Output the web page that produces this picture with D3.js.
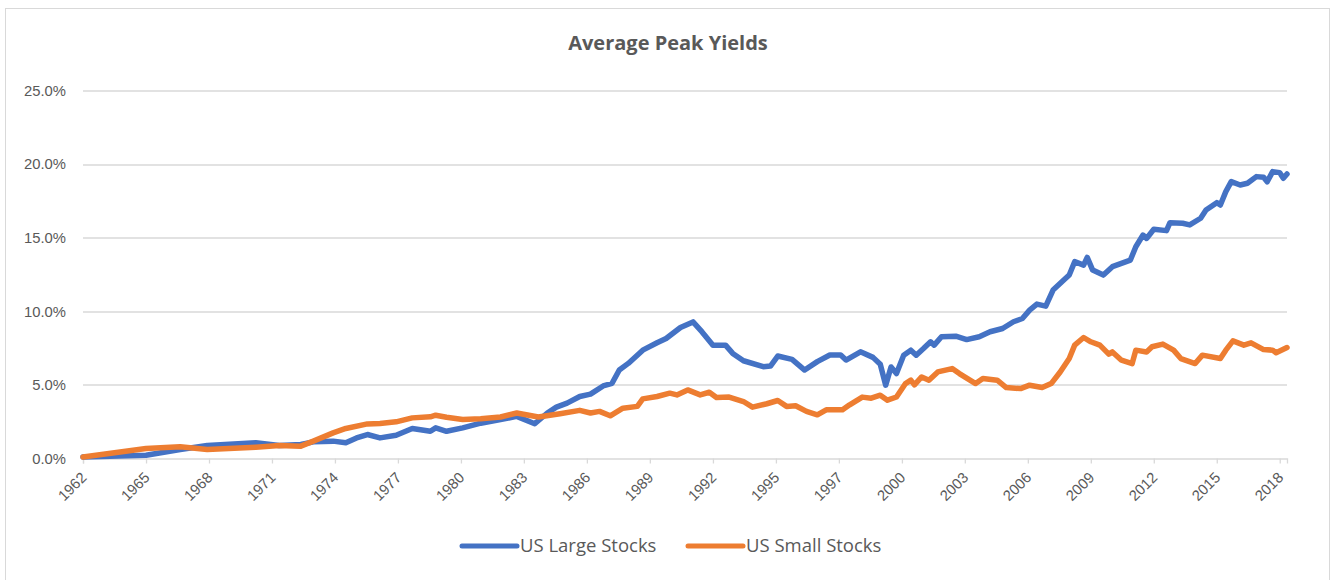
<!DOCTYPE html>
<html>
<head>
<meta charset="utf-8">
<script src="https://cdn.jsdelivr.net/npm/d3@7"></script>
<style>
  body { margin: 0; background: #fff; }
  .tick text { fill: #595959; font-family: "Liberation Sans", Arial, sans-serif; font-size: 14.8px; }
  .chartTitle { fill: #595959; font-family: "Open Sans", sans-serif; font-weight: bold; font-size: 20px; }
  .legendText { fill: #595959; font-family: "Open Sans", sans-serif; font-size: 18.5px; }
</style>
</head>
<body>
<div id="chart"></div>
<script>
var largeDates = ["1962-12","1965-11","1967-06","1968-09","1970-12","1972-01","1973-01","1973-08","1974-07","1975-02",
  "1975-08","1976-02","1976-09","1977-06","1978-03","1979-01","1979-04","1979-10","1980-07","1981-05",
  "1982-04","1983-01","1983-11","1984-06","1984-11","1985-05","1985-12","1986-06","1987-01","1987-06",
  "1987-10","1988-03","1988-11","1989-07","1989-12","1990-08","1991-03","1991-08","1992-02","1992-09",
  "1993-01","1993-07","1994-06","1994-10","1995-02","1995-10","1996-05","1996-12","1997-07","1998-01",
  "1998-04","1998-12","1999-07","1999-11","2000-02","2000-05","2000-08","2000-12","2001-04","2001-07",
  "2001-11","2002-03","2002-05","2002-09","2003-05","2003-11","2004-06","2004-12","2005-07","2006-01",
  "2006-06","2006-10","2007-02","2007-07","2007-11","2008-05","2008-08","2008-11","2009-04","2009-06",
  "2009-09","2010-03","2010-08","2011-06","2011-09","2012-01","2012-03","2012-07","2013-02","2013-04",
  "2013-11","2014-03","2014-09","2014-12","2015-06","2015-08","2015-11","2016-02","2016-07","2016-11",
  "2017-04","2017-08","2017-10","2018-01","2018-05","2018-07","2018-09"];
var largeValues = [0.1,0.22,0.61,0.88,1.07,0.88,0.95,1.13,1.18,1.07,
  1.4,1.63,1.4,1.58,2.04,1.85,2.08,1.85,2.08,2.4,
  2.64,2.86,2.36,3.09,3.49,3.76,4.21,4.37,4.93,5.11,
  6.01,6.46,7.36,7.86,8.15,8.9,9.28,8.6,7.7,7.7,
  7.14,6.64,6.24,6.28,6.96,6.73,6.01,6.58,7.03,7.03,
  6.69,7.25,6.87,6.4,4.98,6.22,5.77,7.02,7.36,7.02,
  7.47,7.93,7.7,8.27,8.31,8.08,8.27,8.61,8.83,9.29,
  9.51,10.08,10.49,10.35,11.44,12.12,12.46,13.37,13.14,13.66,
  12.8,12.46,13.03,13.48,14.39,15.18,14.95,15.57,15.48,16.02,
  15.98,15.87,16.32,16.88,17.38,17.22,18.13,18.81,18.58,18.7,
  19.15,19.1,18.8,19.49,19.42,19.04,19.33];

var smallDates = ["1962-12","1965-11","1967-06","1968-09","1970-12","1972-01","1973-01","1973-08","1974-07","1975-02",
  "1976-02","1976-09","1977-06","1978-03","1979-01","1979-04","1979-10","1980-07","1981-05","1982-04",
  "1983-01","1984-01","1985-01","1985-12","1986-06","1986-11","1987-05","1987-12","1988-08","1988-11",
  "1989-07","1990-02","1990-06","1990-12","1991-07","1991-12","1992-04","1992-11","1993-07","1993-12",
  "1994-08","1995-02","1995-07","1995-12","1996-06","1996-12","1997-05","1998-02","1998-06","1999-01",
  "1999-06","1999-11","2000-03","2000-08","2001-01","2001-04","2001-06","2001-10","2002-02","2002-07",
  "2003-03","2003-07","2004-04","2004-08","2005-04","2005-09","2006-05","2006-10","2007-05","2007-10",
  "2008-03","2008-08","2008-11","2009-04","2009-08","2010-01","2010-06","2010-08","2011-01","2011-07",
  "2011-09","2012-03","2012-06","2012-12","2013-06","2013-10","2014-06","2014-10","2015-08","2015-11",
  "2016-03","2016-09","2017-01","2017-08","2018-01","2018-03","2018-09"];
var smallValues = [0.1,0.68,0.8,0.61,0.77,0.88,0.84,1.18,1.74,2.04,
  2.35,2.38,2.49,2.76,2.83,2.94,2.8,2.65,2.7,2.82,
  3.09,2.82,3.04,3.27,3.09,3.2,2.9,3.42,3.54,4.05,
  4.21,4.44,4.32,4.66,4.32,4.5,4.14,4.17,3.87,3.49,
  3.72,3.94,3.54,3.58,3.2,2.97,3.31,3.31,3.65,4.17,
  4.1,4.3,3.96,4.18,5.09,5.32,5.0,5.54,5.32,5.88,
  6.11,5.77,5.09,5.43,5.32,4.82,4.75,4.98,4.82,5.09,
  5.88,6.79,7.7,8.22,7.93,7.7,7.09,7.24,6.68,6.45,
  7.36,7.24,7.59,7.77,7.36,6.79,6.45,7.02,6.79,7.36,
  7.99,7.7,7.86,7.4,7.36,7.18,7.54];

var yTicks = [0, 5, 10, 15, 20, 25];
var xTickStart = "1962-12";
var xTickStepMonths = 35;
var xTickCount = 20;
var seriesNames = ["US Large Stocks", "US Small Stocks"];
var seriesColors = ["#4472C4", "#ED7D31"];

var svgWidth = 1331;
var svgHeight = 580;
var margin = { top: 90.5, right: 44, bottom: 121.5, left: 83 };
var width = svgWidth - margin.left - margin.right;
var height = svgHeight - margin.top - margin.bottom;

var parseMonth = d3.timeParse("%Y-%m");

var svg = d3.select("#chart")
    .append("svg")
    .attr("width", svgWidth)
    .attr("height", svgHeight);

// chart border
svg.append("rect")
    .attr("x", 5.5)
    .attr("y", 8.5)
    .attr("width", 1324)
    .attr("height", 600)
    .attr("fill", "none")
    .attr("stroke", "#d9d9d9");

svg.append("text")
    .attr("class", "chartTitle")
    .attr("x", 668)
    .attr("y", 50)
    .attr("text-anchor", "middle")
    .text("Average Peak Yields");

var charts = svg.append("g")
    .attr("transform", `translate(${margin.left}, ${margin.top})`);

var large = largeDates.map((d, i) => ({ date: parseMonth(d), value: largeValues[i] }));
var small = smallDates.map((d, i) => ({ date: parseMonth(d), value: smallValues[i] }));

var xScale = d3.scaleTime()
    .domain([parseMonth("1962-12"), parseMonth("2018-09")])
    .range([0, width]);

var yScale = d3.scaleLinear()
    .domain([0, 25])
    .range([height, 0]);

// gridlines
charts.append("g")
    .selectAll("line")
    .data(yTicks.slice(1))
    .enter()
    .append("line")
    .attr("x1", 0)
    .attr("x2", width)
    .attr("y1", d => Math.round(yScale(d)) + 0.5)
    .attr("y2", d => Math.round(yScale(d)) + 0.5)
    .attr("stroke", "#d9d9d9")
    .attr("stroke-width", 1.3);

var leftAxis = d3.axisLeft(yScale)
    .tickValues(yTicks)
    .tickSize(0)
    .tickPadding(17)
    .tickFormat(d => d3.format(".1f")(d) + "%");

var yAxis = charts.append("g").call(leftAxis);
yAxis.select(".domain").remove();

var tickDates = d3.range(xTickCount).map(k => d3.timeMonth.offset(parseMonth(xTickStart), k * xTickStepMonths));

var bottomAxis = d3.axisBottom(xScale)
    .tickValues(tickDates)
    .tickSizeOuter(0)
    .tickSize(5)
    .tickFormat(d3.timeFormat("%Y"));

var xAxis = charts.append("g")
    .attr("transform", `translate(0, ${height})`)
    .call(bottomAxis);

xAxis.select(".domain").attr("stroke", "#d9d9d9").attr("stroke-width", 1.3);
xAxis.selectAll(".tick line").attr("stroke", "#d9d9d9").attr("stroke-width", 1.3);
xAxis.selectAll(".tick text")
    .attr("text-anchor", "end")
    .attr("dy", 0)
    .attr("y", 0)
    .attr("transform", "translate(4, 20) rotate(-45)");

var line = d3.line()
    .x(d => xScale(d.date))
    .y(d => yScale(d.value));

[large, small].forEach(function (series, i) {
    charts.append("path")
        .datum(series)
        .attr("d", line)
        .attr("fill", "none")
        .attr("stroke", seriesColors[i])
        .attr("stroke-width", 5.5)
        .attr("stroke-linejoin", "round")
        .attr("stroke-linecap", "round");
});

// legend
var legendX = [462, 688];
var legend = svg.append("g")
    .selectAll("g")
    .data(seriesNames)
    .enter()
    .append("g")
    .attr("transform", (d, i) => `translate(${legendX[i]}, 546)`);

legend.append("line")
    .attr("x1", 0)
    .attr("x2", 55)
    .attr("stroke", (d, i) => seriesColors[i])
    .attr("stroke-width", 5)
    .attr("stroke-linecap", "round");

legend.append("text")
    .attr("class", "legendText")
    .attr("x", 58)
    .attr("dy", "0.35em")
    .text(d => d);
</script>
</body>
</html>
